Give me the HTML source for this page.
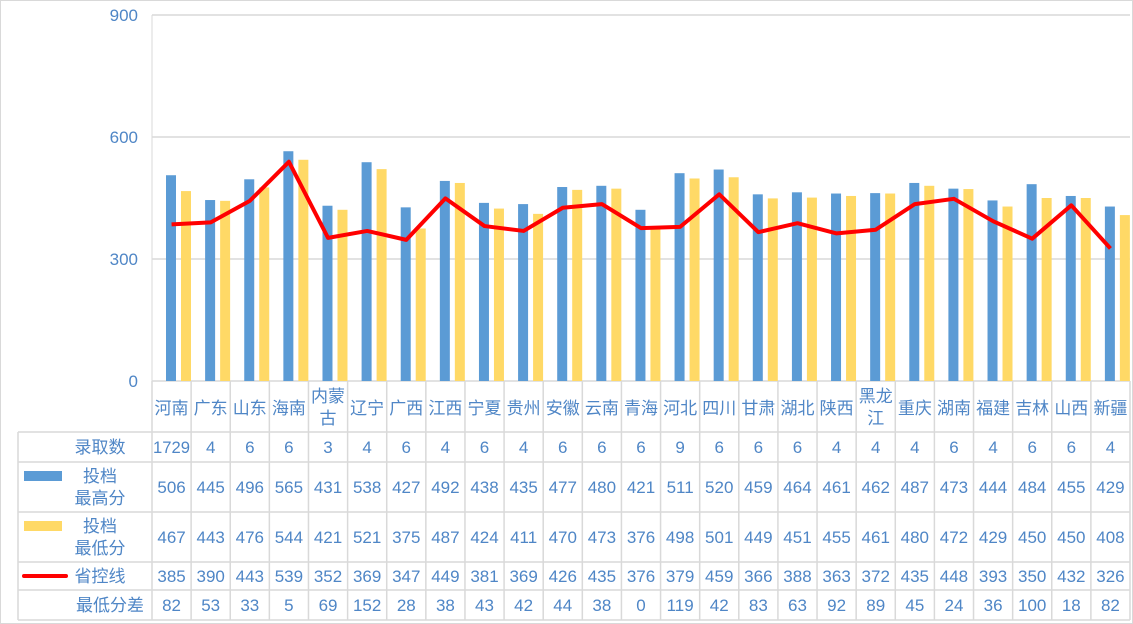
<!DOCTYPE html>
<html><head><meta charset="utf-8"><style>
html,body{margin:0;padding:0;background:#fff}
svg{display:block}
text{font-family:"Liberation Sans","Noto Sans CJK SC",sans-serif;fill:#4f86c6;font-size:17px}
</style></head><body>
<svg id="s" width="1133" height="624" viewBox="0 0 1133 624"></svg>
<script>
const names=["河南","广东","山东","海南","内蒙古","辽宁","广西","江西","宁夏","贵州","安徽","云南","青海","河北","四川","甘肃","湖北","陕西","黑龙江","重庆","湖南","福建","吉林","山西","新疆"];
const cnt=[1729,4,6,6,3,4,6,4,6,4,6,6,6,9,6,6,6,4,4,4,6,4,6,6,4];
const hi=[506,445,496,565,431,538,427,492,438,435,477,480,421,511,520,459,464,461,462,487,473,444,484,455,429];
const lo=[467,443,476,544,421,521,375,487,424,411,470,473,376,498,501,449,451,455,461,480,472,429,450,450,408];
const ln=[385,390,443,539,352,369,347,449,381,369,426,435,376,379,459,366,388,363,372,435,448,393,350,432,326];
const df=[82,53,33,5,69,152,28,38,43,42,44,38,0,119,42,83,63,92,89,45,24,36,100,18,82];
const X0=152,X1=1130,W=(X1-X0)/25,Y0=381,K=122/300;
let h='<rect x="0.5" y="0.5" width="1132" height="623" fill="#fff" stroke="#d9d9d9"/>';
[0,300,600,900].forEach(v=>{const y=Y0-v*K;h+=`<line x1="${X0}" x2="${X1}" y1="${y}" y2="${y}" stroke="#d9d9d9" stroke-width="1.5"/><text x="138" y="${y+6}" text-anchor="end">${v}</text>`});
h+=`<line x1="${X0}" x2="${X0}" y1="15" y2="381" stroke="#d9d9d9"/>`;
let pts=[];
for(let i=0;i<25;i++){const x=X0+i*W;
 h+=`<rect x="${x+14}" y="${Y0-hi[i]*K}" width="10" height="${hi[i]*K}" fill="#5b9bd5"/>`;
 h+=`<rect x="${x+29}" y="${Y0-lo[i]*K}" width="10" height="${lo[i]*K}" fill="#ffd966"/>`;
 pts.push(`${x+W/2},${Y0-ln[i]*K}`);}
h+=`<polyline points="${pts.join(' ')}" fill="none" stroke="#ff0000" stroke-width="4" stroke-linejoin="round"/>`;
// table
const rows=[381,432,462,512,562,590,620];
const g='stroke="#d9d9d9" stroke-width="1.5"';
for(let r=1;r<rows.length;r++)h+=`<line x1="18" x2="${X1}" y1="${rows[r]}" y2="${rows[r]}" ${g}/>`;
h+=`<line x1="18" x2="18" y1="432" y2="620" ${g}/>`;
for(let i=0;i<=25;i++){const x=X0+i*W;h+=`<line x1="${x}" x2="${x}" y1="381" y2="620" ${g}/>`}
const data=[cnt,hi,lo,ln,df];
for(let i=0;i<25;i++){const cx=X0+i*W+W/2;const n=names[i];
 if(n.length==3){h+=`<text x="${cx}" y="402" text-anchor="middle">${n.slice(0,2)}</text><text x="${cx}" y="424" text-anchor="middle">${n[2]}</text>`}
 else h+=`<text x="${cx}" y="414" text-anchor="middle">${n}</text>`;
 data.forEach((d,r)=>{const y=(rows[r+1]+rows[r+2])/2+6;h+=`<text x="${cx}" y="${y}" text-anchor="middle" ${d[i]>999?'textLength="37" lengthAdjust="spacingAndGlyphs"':''}>${d[i]}</text>`});}
h+=`<text x="100" y="453" text-anchor="middle">录取数</text>`;
h+=`<rect x="24" y="471" width="38" height="10" fill="#5b9bd5"/><text x="100" y="482" text-anchor="middle">投档</text><text x="100" y="504" text-anchor="middle">最高分</text>`;
h+=`<rect x="24" y="521" width="38" height="10" fill="#ffd966"/><text x="100" y="532" text-anchor="middle">投档</text><text x="100" y="554" text-anchor="middle">最低分</text>`;
h+=`<line x1="24" x2="66" y1="576" y2="576" stroke="#ff0000" stroke-width="4" stroke-linecap="round"/><text x="100" y="582" text-anchor="middle">省控线</text>`;
h+=`<text x="110" y="611" text-anchor="middle">最低分差</text>`;
document.getElementById('s').innerHTML=h;
</script>
</body></html>
